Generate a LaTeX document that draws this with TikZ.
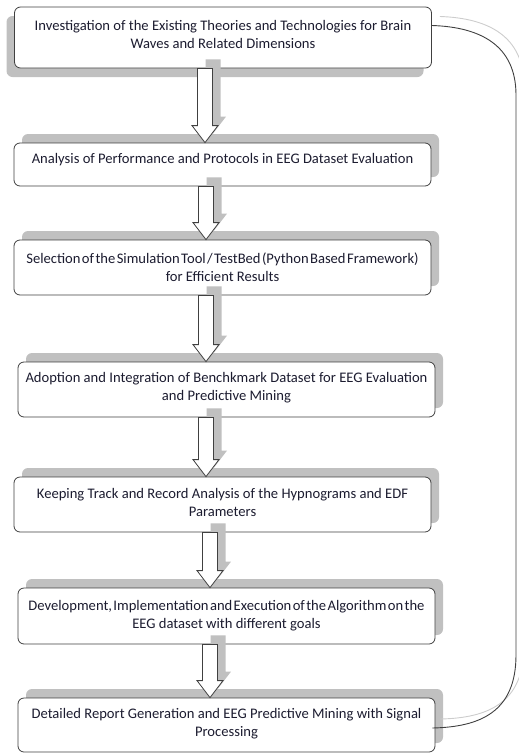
\documentclass[tikz,border=0pt]{standalone}
\usepackage{fontspec}
\setmainfont{Carlito}
\usetikzlibrary{calc,shadows}
\definecolor{flowline}{RGB}{64,64,64}
\definecolor{flowshade}{RGB}{192,192,192}
\definecolor{flowink}{RGB}{28,28,48}
\definecolor{loopshade}{RGB}{205,205,205}
\newcommand{\flowtext}[2]{\parbox[c][#1pt][t]{417pt}{\centering\fontsize{14.6}{18}\selectfont #2}}
\newcommand{\tightline}[1]{{\spaceskip=1.4pt\relax #1}}
\newcommand{\flowarrow}[3]{%
  \draw[flowarrow] let \p1=(#2), \p2=(#3) in
    (#1pt-7.5pt,\y1) -- (#1pt+7.5pt,\y1) -- (#1pt+7.5pt,\y2+17pt) -- (#1pt+13pt,\y2+17pt)
    -- (#1pt,\y2) -- (#1pt-13pt,\y2+17pt) -- (#1pt-7.5pt,\y2+17pt) -- cycle;}

\begin{document}
\begin{tikzpicture}[x=1pt,y=-1pt,
    shadeup/.style={general shadow={fill=flowshade,shadow xshift=8pt,shadow yshift=9pt}},
    shadedown/.style={general shadow={fill=flowshade,shadow xshift=-8pt,shadow yshift=-9pt}},
    flowbox/.style={draw=flowline,line width=0.8pt,rounded corners=6pt,fill=white,
      minimum width=417pt,inner sep=0pt,text=flowink},
    flowarrow/.style={draw=flowline,line width=0.8pt,fill=white,shadeup},
    loopline/.style={draw=flowline,line width=0.9pt}]
            \useasboundingbox (0,0) rectangle (519,753);

            \node[flowbox,shadedown,minimum height=61pt] (b1) at (223,37.5)
                {\flowtext{35}{Investigation of the Existing Theories and Technologies for Brain\\ Waves and Related Dimensions}};
            \node[flowbox,shadeup,minimum height=43pt] (b2) at (222.5,164.5)
                {\flowtext{22}{Analysis of Performance and Protocols in EEG Dataset Evaluation}};
            \node[flowbox,shadeup,minimum height=55pt] (b3) at (222.5,267.5)
                {\flowtext{30}{\tightline{Selection of the Simulation Tool / TestBed (Python Based Framework)}\\ for Efficient Results}};
            \node[flowbox,shadeup,minimum height=55pt] (b4) at (226.5,389.5)
                {\flowtext{34}{Adoption and Integration of Benchkmark Dataset for EEG Evaluation\\ and Predictive Mining}};
            \node[flowbox,shadeup,minimum height=55pt] (b5) at (222.5,504.5)
                {\flowtext{32}{Keeping Track and Record Analysis of the Hypnograms and EDF\\ Parameters}};
            \node[flowbox,shadeup,minimum height=56pt] (b6) at (226.5,616)
                {\flowtext{31}{\tightline{Development, Implementation and Execution of the Algorithm on the}\\ EEG dataset with different goals}};
            \node[flowbox,shadeup,minimum height=54pt] (b7) at (226.5,725)
                {\flowtext{33}{Detailed Report Generation and EEG Predictive Mining with Signal\\ Processing}};

            \flowarrow{205}{b1.south}{b2.north}
            \flowarrow{206}{b2.south}{b3.north}
            \flowarrow{206}{b3.south}{b4.north}
            \flowarrow{206}{b4.south}{b5.north}
            \flowarrow{210}{b5.south}{b6.north}
            \flowarrow{210}{b6.south}{b7.north}

            \coordinate (loopa) at ($(b1.east)+(0,-12)$);
            \coordinate (loopb) at ($(b7.east)+(-3,3)$);
            \begin{scope}[transform canvas={shift={(8pt,9pt)}}]
            \draw[loopshade,line width=0.9pt] (loopa) .. controls (480,27) and (516,45) .. (516,95)
                -- (516,655) .. controls (516,712) and (480,727) .. (loopb);
            \end{scope}
            \draw[loopline] (loopa) .. controls (480,27) and (516,45) .. (516,95)
                -- (516,655) .. controls (516,712) and (480,727) .. (loopb);
        \end{tikzpicture}
\end{document}
